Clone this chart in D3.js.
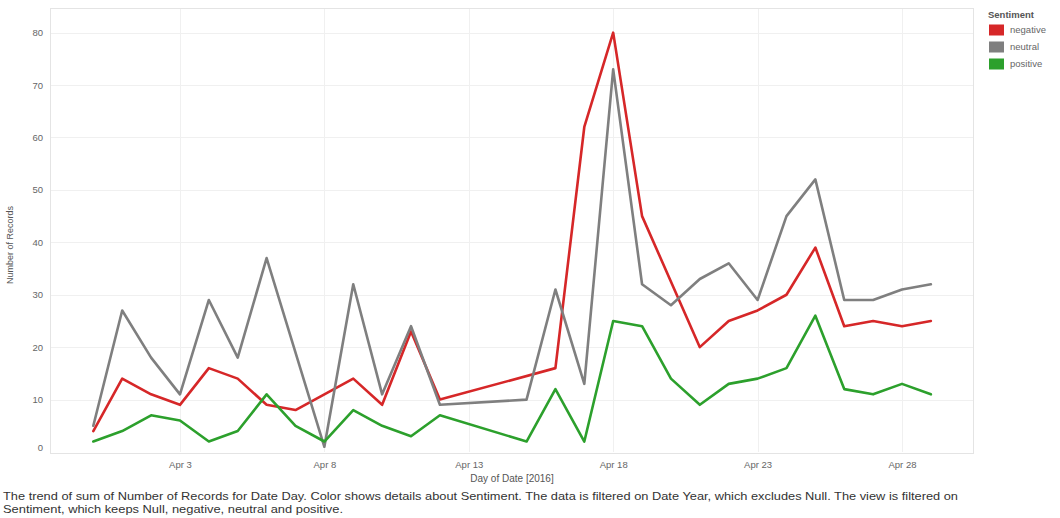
<!DOCTYPE html>
<html>
<head>
<meta charset="utf-8">
<script src="https://cdn.jsdelivr.net/npm/d3@7/dist/d3.min.js"></script>
<style>
  html, body { margin: 0; padding: 0; background: #fff; }
  svg { display: block; font-family: "Liberation Sans", Arial, sans-serif; }
</style>
</head>
<body>
<svg id="chart" width="1060" height="518"></svg>
<script>
// ---- data ----
const dates = [
  "2016-03-31","2016-04-01","2016-04-02","2016-04-03","2016-04-04","2016-04-05",
  "2016-04-06","2016-04-07","2016-04-08","2016-04-09","2016-04-10","2016-04-11",
  "2016-04-12","2016-04-15","2016-04-16","2016-04-17","2016-04-18","2016-04-19",
  "2016-04-20","2016-04-21","2016-04-22","2016-04-23","2016-04-24","2016-04-25",
  "2016-04-26","2016-04-27","2016-04-28","2016-04-29"
];
const negative = [4,14,11,9,16,14,9,8,11,14,9,23,10,null,16,62,80,45,null,20,25,27,30,39,24,25,24,25];
const neutral  = [5,27,18,11,29,18,37,null,1,32,11,24,9,10,31,13,73,32,28,33,36,29,45,52,29,29,31,32];
const positive = [2,4,7,6,2,4,11,5,2,8,5,3,7,2,12,2,25,24,14,9,13,14,16,26,12,11,13,11];

const seriesNames = ["negative","neutral","positive"];
const seriesColors = ["#d62728","#7f7f7f","#2ca02c"];
const yTicks = [0,10,20,30,40,50,60,70,80];
const xTickDates = ["2016-04-03","2016-04-08","2016-04-13","2016-04-18","2016-04-23","2016-04-28"];
const yTitle = "Number of Records";
const xTitle = "Day of Date [2016]";
const legendTitle = "Sentiment";
const caption = [
  "The trend of sum of Number of Records for Date Day.  Color shows details about Sentiment. The data is filtered on Date Year, which excludes Null. The view is filtered on",
  "Sentiment, which keeps Null, negative, neutral and positive."
];

// ---- layout ----
const svg = d3.select("#chart");
const plot = { left: 50, right: 973, top: 8, bottom: 452 };
const parse = d3.utcParse("%Y-%m-%d");

const x = d3.scaleUtc()
  .domain([new Date(Date.UTC(2016,2,29,12)), new Date(Date.UTC(2016,3,30,11))])
  .range([plot.left, plot.right]);
const y = d3.scaleLinear().domain([0, 84.7]).range([plot.bottom, plot.top]);

const color = d3.scaleOrdinal().domain(seriesNames).range(seriesColors);

// gridlines
const grid = svg.append("g");
grid.selectAll("line.h").data(yTicks.filter(d => d > 0)).join("line")
  .attr("x1", plot.left).attr("x2", plot.right)
  .attr("y1", d => Math.round(y(d)) + 0.5).attr("y2", d => Math.round(y(d)) + 0.5)
  .attr("stroke", "#f0f0f0").attr("stroke-width", 1);
grid.selectAll("line.v").data(xTickDates.map(parse)).join("line")
  .attr("y1", plot.top).attr("y2", plot.bottom)
  .attr("x1", d => Math.round(x(d)) + 0.5).attr("x2", d => Math.round(x(d)) + 0.5)
  .attr("stroke", "#f0f0f0").attr("stroke-width", 1);
// plot border
svg.append("rect")
  .attr("x", plot.left + 0.5).attr("y", plot.top + 0.5)
  .attr("width", plot.right - plot.left).attr("height", plot.bottom - plot.top + 1)
  .attr("fill", "none").attr("stroke", "#e4e4e4");

// axes
const yAxis = d3.axisLeft(y).tickValues(yTicks).tickSize(0).tickPadding(7);
const gy = svg.append("g").attr("transform", `translate(${plot.left},0)`).call(yAxis);
gy.select(".domain").remove();
gy.selectAll("text").attr("fill", "#666").attr("font-size", 9.5)
  .attr("font-family", "Liberation Sans, Arial, sans-serif")
  .attr("dy", d => d === 0 ? "-0.2em" : "0.32em");

const xAxis = d3.axisBottom(x).tickValues(xTickDates.map(parse))
  .tickFormat(d3.utcFormat("%b %-d")).tickSize(0).tickPadding(9);
const gx = svg.append("g").attr("transform", `translate(0,${plot.bottom})`).call(xAxis);
gx.select(".domain").remove();
gx.selectAll("text").attr("fill", "#666").attr("font-size", 9.5)
  .attr("font-family", "Liberation Sans, Arial, sans-serif");

// titles
svg.append("text")
  .attr("transform", `translate(13,245) rotate(-90)`)
  .attr("text-anchor", "middle").attr("font-size", 9).attr("fill", "#555")
  .text(yTitle);
svg.append("text")
  .attr("x", 512).attr("y", 482).attr("text-anchor", "middle")
  .attr("font-size", 10).attr("fill", "#555").text(xTitle);

// lines
const seriesData = [negative, neutral, positive];
const line = d3.line()
  .x(d => x(d.date)).y(d => y(d.value));
seriesNames.forEach((name, i) => {
  const pts = dates.map((s, j) => ({ date: parse(s), value: seriesData[i][j] }))
    .filter(p => p.value !== null);
  svg.append("path").datum(pts)
    .attr("fill", "none").attr("stroke", color(name))
    .attr("stroke-width", 2.6).attr("stroke-linejoin", "round")
    .attr("stroke-linecap", "round")
    .attr("d", line);
});

// legend
const lg = svg.append("g");
lg.append("text").attr("x", 988).attr("y", 18)
  .attr("font-size", 9.5).attr("font-weight", "bold").attr("fill", "#555")
  .text(legendTitle);
seriesNames.forEach((name, i) => {
  const cy = 30 + i * 17;
  lg.append("rect").attr("x", 989).attr("y", cy - 5.5).attr("width", 15).attr("height", 11)
    .attr("fill", color(name));
  lg.append("text").attr("x", 1010).attr("y", cy).attr("dy", "0.35em")
    .attr("font-size", 9.5).attr("fill", "#666").text(name);
});

// caption
const captionWidths = [955, 340];
caption.forEach((t, i) => {
  svg.append("text").attr("x", 3).attr("y", 500 + i * 12.5)
    .attr("font-size", 10.5).attr("fill", "#333")
    .attr("textLength", captionWidths[i]).attr("lengthAdjust", "spacingAndGlyphs")
    .text(t);
});
</script>
</body>
</html>
